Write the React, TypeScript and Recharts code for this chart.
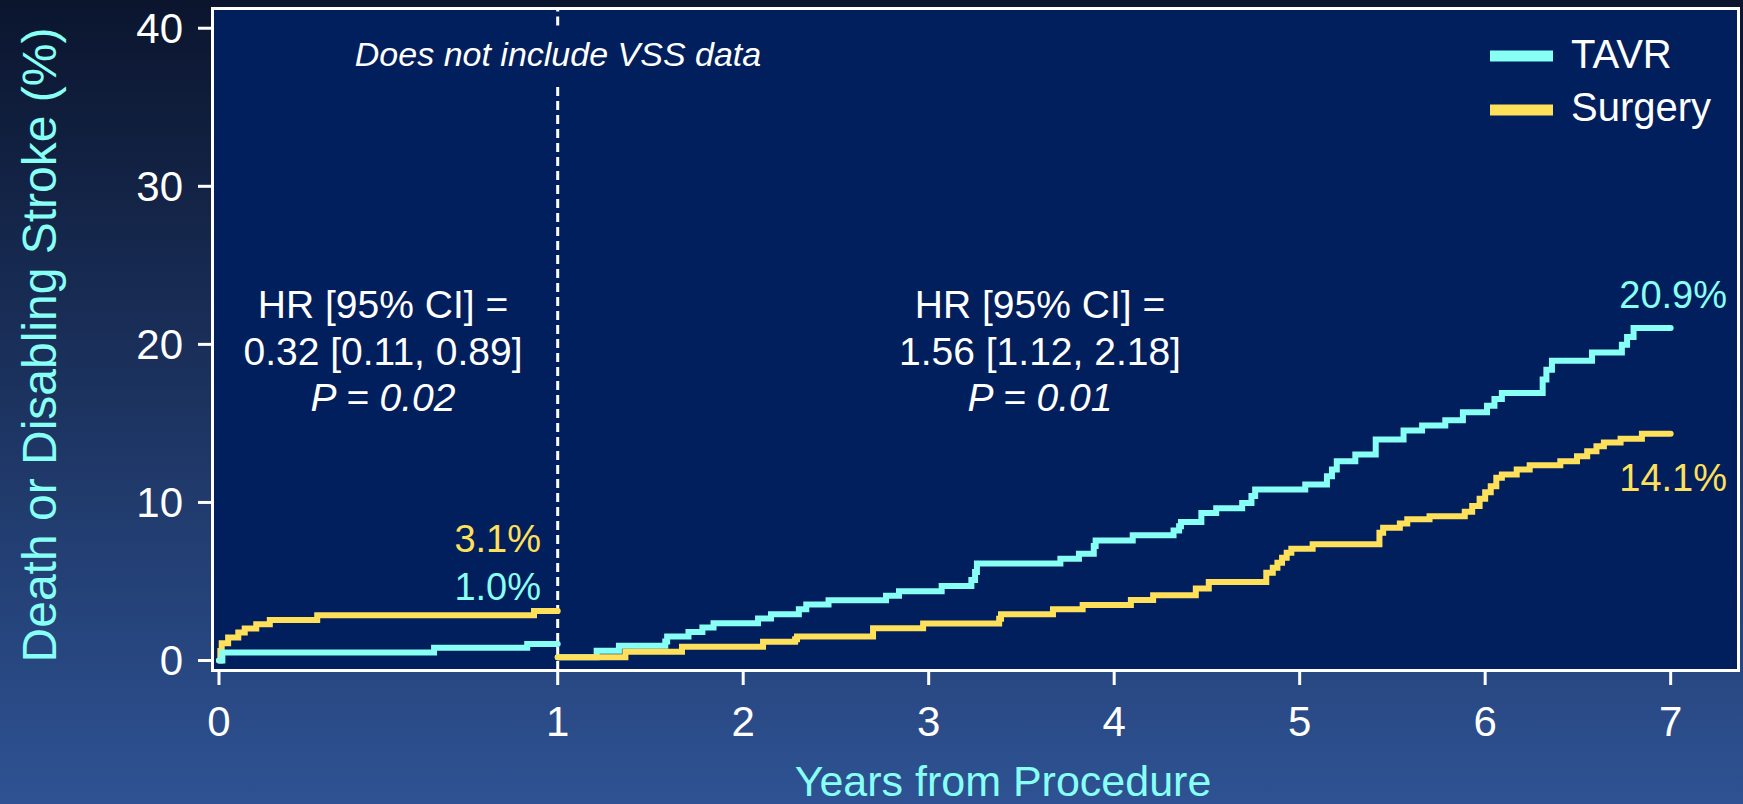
import { LineChart, Line, XAxis, YAxis, ReferenceLine } from "recharts";

const FONT = '"Liberation Sans", Arial, Helvetica, sans-serif';
const CYAN = "#88fff4";
const GOLD = "#ffe05a";
const PLOT_BG = "#011f5c";

const yearTicks = [0, 1, 2, 3, 4, 5, 6, 7];
const pctTicks = [0, 10, 20, 30, 40];

// landmark 0-1 year
const tavrEarlyYears = [0, 0.01, 0.635, 0.91, 1.0];
const tavrEarlyPct = [0, 0.5, 0.8, 1.05, 1.05];

const surgEarlyYears = [0, 0.004, 0.008, 0.027, 0.057, 0.076, 0.11, 0.15, 0.29, 0.93, 1.0];
const surgEarlyPct = [0, 0.6, 1.1, 1.46, 1.77, 2.03, 2.3, 2.57, 2.87, 3.14, 3.14];

// landmark 1-7 years
const tavrLateYears = [
  1, 1.21, 1.33, 1.58, 1.59, 1.705, 1.78, 1.84, 2.08, 2.15, 2.3, 2.34, 2.46, 2.77, 2.84, 3.07,
  3.23, 3.25, 3.26, 3.71, 3.81, 3.89, 3.9, 4.1, 4.32, 4.35, 4.36, 4.47, 4.55, 4.69, 4.74, 4.76,
  5.03, 5.147, 5.174, 5.2, 5.3, 5.41, 5.56, 5.66, 5.785, 5.88, 6.01, 6.05, 6.09, 6.31, 6.33,
  6.36, 6.576, 6.737, 6.765, 6.8, 7.0,
];
const tavrLatePct = [
  0.2, 0.61, 0.93, 1.2, 1.52, 1.81, 2.09, 2.36, 2.66, 2.93, 3.24, 3.54, 3.81, 4.09, 4.38, 4.72,
  5.1, 5.6, 6.13, 6.44, 6.76, 7.24, 7.6, 7.92, 8.23, 8.5, 8.76, 9.34, 9.64, 9.97, 10.4, 10.82,
  11.14, 11.66, 12.08, 12.6, 13.03, 13.98, 14.55, 14.86, 15.2, 15.7, 16.12, 16.55, 16.92, 17.77,
  18.4, 18.96, 19.49, 19.97, 20.46, 21.03, 21.03,
];

const surgLateYears = [
  1, 1.365, 1.67, 2.107, 2.28, 2.29, 2.7, 2.97, 3.38, 3.39, 3.67, 3.83, 4.09, 4.21, 4.44, 4.51,
  4.82, 4.855, 4.88, 4.905, 4.93, 4.955, 5.07, 5.43, 5.45, 5.54, 5.58, 5.7, 5.89, 5.93, 5.97, 6.0,
  6.03, 6.06, 6.09, 6.17, 6.24, 6.405, 6.495, 6.55, 6.6, 6.64, 6.73, 6.845, 7.0,
];
const surgLatePct = [
  0.2, 0.55, 0.87, 1.18, 1.35, 1.52, 2.04, 2.34, 2.65, 2.93, 3.24, 3.52, 3.83, 4.13, 4.55, 4.97,
  5.55, 5.87, 6.19, 6.5, 6.82, 7.07, 7.35, 8.09, 8.4, 8.67, 8.93, 9.13, 9.41, 9.77, 10.23, 10.65,
  11.03, 11.56, 11.77, 12.08, 12.35, 12.6, 12.92, 13.24, 13.56, 13.8, 14.03, 14.34, 14.34,
];

// the first year is drawn wider than the others on the original slide
const FIRST_YEAR = 1.826;
const toAxis = (t: number) => (t <= 1 ? t * FIRST_YEAR : FIRST_YEAR + (t - 1));
const toRows = (years: number[], pct: number[]) =>
  years.map((t, i) => ({ u: toAxis(t), v: pct[i] }));

const tavrEarly = toRows(tavrEarlyYears, tavrEarlyPct);
const tavrLate = toRows(tavrLateYears, tavrLatePct);
const surgEarly = toRows(surgEarlyYears, surgEarlyPct);
const surgLate = toRows(surgLateYears, surgLatePct);

const legendItems = [
  { name: "TAVR", color: CYAN },
  { name: "Surgery", color: GOLD },
];

const X_DOMAIN: [number, number] = [-0.0377, 8.189];
const Y_DOMAIN: [number, number] = [-0.6, 41.28];

const stepProps = {
  type: "stepAfter" as const,
  dataKey: "v",
  strokeWidth: 6,
  dot: false,
  activeDot: false,
  isAnimationActive: false,
  strokeLinecap: "round" as const,
  strokeLinejoin: "miter" as const,
};

export default function App() {
  const white = "#ffffff";
  return (
    <div
      style={{
        position: "absolute",
        left: 0,
        top: 0,
        width: 1743,
        height: 804,
        overflow: "hidden",
        background: "linear-gradient(180deg, #0b152e 0%, #1c3360 50%, #2e5293 100%)",
        fontFamily: FONT,
      }}
    >
      {/* plot frame */}
      <div
        style={{
          position: "absolute",
          left: 210.5,
          top: 6.5,
          width: 1529,
          height: 665,
          boxSizing: "border-box",
          border: "3px solid #fff",
          background: PLOT_BG,
        }}
      />
      <div style={{ position: "absolute", left: 0, top: 0 }}>
        <LineChart width={1743} height={804} margin={{ top: 8, right: 5, left: 0, bottom: 0 }}>
          <XAxis
            type="number"
            dataKey="u"
            domain={X_DOMAIN}
            allowDataOverflow
            ticks={yearTicks.map(toAxis)}
            interval={0}
            tickFormatter={(_v: number, i: number) => String(yearTicks[i])}
            height={134}
            axisLine={false}
            tickSize={15}
            tickMargin={21}
            tickLine={{ stroke: white, strokeWidth: 3 }}
            tick={{ fill: white, fontSize: 42, fontFamily: FONT }}
          />
          <YAxis
            type="number"
            domain={Y_DOMAIN}
            allowDataOverflow
            ticks={pctTicks}
            interval={0}
            width={212}
            axisLine={false}
            tickSize={14}
            tickMargin={15}
            tickLine={{ stroke: white, strokeWidth: 3 }}
            tick={{ fill: white, fontSize: 42, fontFamily: FONT }}
          />
          <ReferenceLine
            segment={[
              { x: FIRST_YEAR, y: Y_DOMAIN[0] },
              { x: FIRST_YEAR, y: 36.5 },
            ]}
            stroke={white}
            strokeWidth={3}
            strokeDasharray="9 5"
          />
          <ReferenceLine
            segment={[
              { x: FIRST_YEAR, y: 40.18 },
              { x: FIRST_YEAR, y: Y_DOMAIN[1] },
            ]}
            stroke={white}
            strokeWidth={3}
            strokeDasharray="9 5"
          />
          <Line {...stepProps} data={surgEarly} stroke={GOLD} name="Surgery" />
          <Line {...stepProps} data={tavrEarly} stroke={CYAN} name="TAVR" />
          <Line {...stepProps} data={tavrLate} stroke={CYAN} name="TAVR" />
          <Line {...stepProps} data={surgLate} stroke={GOLD} name="Surgery" />
        </LineChart>
      </div>
      <svg
        width={1743}
        height={804}
        style={{ position: "absolute", left: 0, top: 0, pointerEvents: "none" }}
        fontFamily={FONT}
      >
        <text
          transform="translate(56,345) rotate(-90)"
          textAnchor="middle"
          fontSize={48}
          fill={CYAN}
        >
          Death or Disabling Stroke (%)
        </text>
        <text x={1003} y={796} textAnchor="middle" fontSize={43} fill={CYAN}>
          Years from Procedure
        </text>
        <text x={558} y={66} textAnchor="middle" fontSize={34} fontStyle="italic" fill={white}>
          Does not include VSS data
        </text>

        <g fontSize={39} fill={white} textAnchor="middle">
          <text x={383} y={318}>HR [95% CI] =</text>
          <text x={383} y={365}>0.32 [0.11, 0.89]</text>
          <text x={383} y={411} fontStyle="italic">P = 0.02</text>
          <text x={1040} y={318}>HR [95% CI] =</text>
          <text x={1040} y={365}>1.56 [1.12, 2.18]</text>
          <text x={1040} y={411} fontStyle="italic">P = 0.01</text>
        </g>

        <g fontSize={38} textAnchor="end">
          <text x={541} y={552} fill={GOLD}>3.1%</text>
          <text x={541} y={600} fill={CYAN}>1.0%</text>
          <text x={1727} y={308} fill={CYAN}>20.9%</text>
          <text x={1727} y={491} fill={GOLD}>14.1%</text>
        </g>

        {legendItems.map((item, i) => (
          <g key={item.name}>
            <rect x={1490} y={50.5 + i * 54} width={63} height={11} fill={item.color} />
            <text x={1571} y={68 + i * 53} fontSize={40} fill={white}>
              {item.name}
            </text>
          </g>
        ))}
      </svg>
    </div>
  );
}
